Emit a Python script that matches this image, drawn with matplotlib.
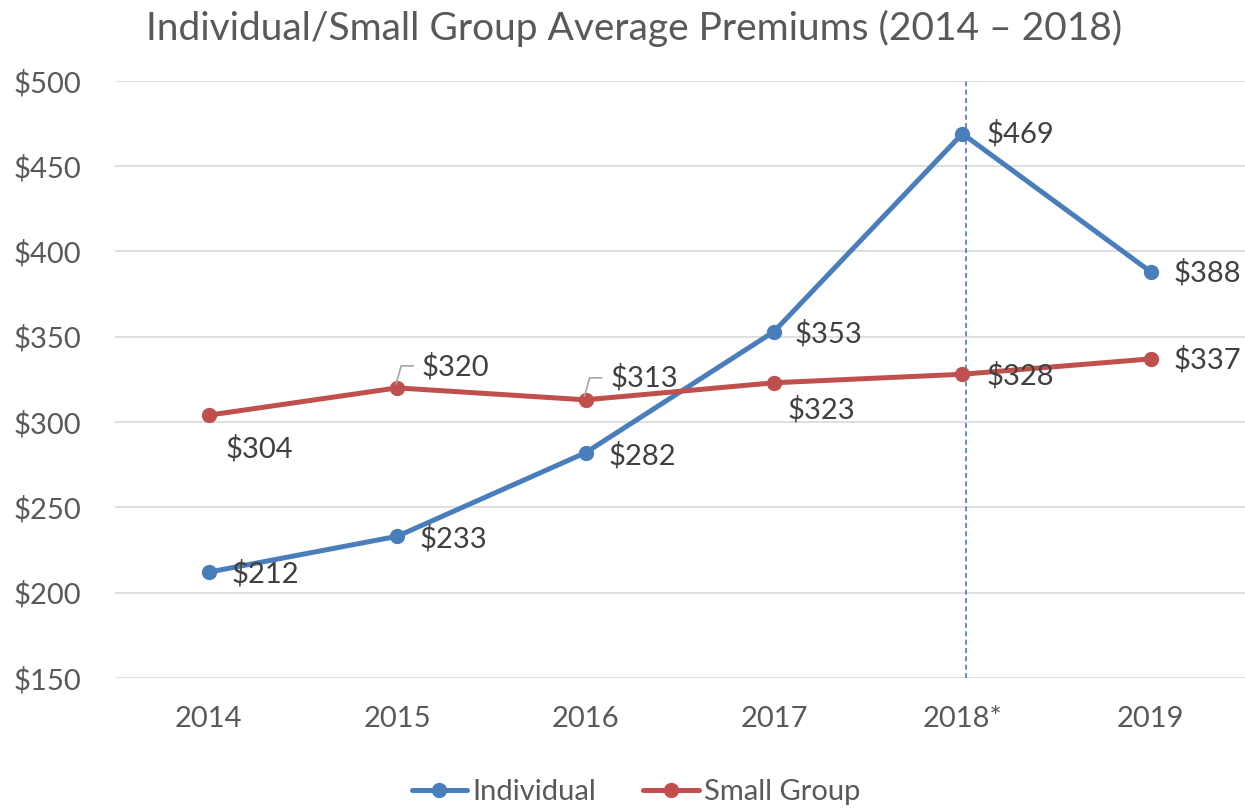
import matplotlib

matplotlib.use("Agg")
import matplotlib.pyplot as plt
from matplotlib.transforms import IdentityTransform

plt.rcParams["font.family"] = ["Lato", "DejaVu Sans"]

# data
years = ["2014", "2015", "2016", "2017", "2018*", "2019"]
individual = [212, 233, 282, 353, 469, 388]
small_group = [304, 320, 313, 323, 328, 337]

# label offsets in pixels (dx, dy from point, dy positive = up)
ind_offsets = [(23, -2), (22, -2), (23, -3), (21, -2), (24, 0), (23, -1)]
sg_offsets = [(17, -34), (24, 21), (25, 22), (14, -27), (24, -2), (23, -1)]
sg_leaders = [False, True, True, False, False, False]

BLUE = "#4A7EBB"
RED = "#C0504D"
GRID = "#D9D9D9"
TXT = "#404040"
TICK = "#595959"
FS = 21

fig = plt.figure(figsize=(12.45, 8.08), dpi=100)
ax = fig.add_axes([0.092, 0.161, 0.908, 0.739])

x = list(range(len(years)))
ax.plot(x, individual, color=BLUE, lw=3.6, marker="o", ms=10, label="Individual",
        solid_capstyle="round", zorder=3)
ax.plot(x, small_group, color=RED, lw=3.6, marker="o", ms=10, label="Small Group",
        solid_capstyle="round", zorder=3)

ax.axvline(4.02, color=BLUE, lw=1.2, ls=(0, (3, 2)), zorder=2)

ax.set_xlim(-0.5, 5.5)
ax.set_ylim(150, 500)
ax.set_yticks(range(150, 501, 50))
ax.set_yticklabels([f"${v}" for v in range(150, 501, 50)])
ax.set_xticks(x)
ax.set_xticklabels(years)
ax.yaxis.grid(True, color=GRID, lw=1.2)
ax.set_axisbelow(True)
for s in ax.spines.values():
    s.set_visible(False)
ax.tick_params(length=0, labelsize=FS, colors=TICK)
ax.tick_params(axis="y", pad=24)
ax.tick_params(axis="x", pad=20)

fig.canvas.draw()


def label(xi, yi, dx, dy, leader=False):
    px, py = ax.transData.transform((xi, yi))
    ax.annotate(f"${yi}", (xi, yi), xytext=(dx, dy), textcoords="offset pixels",
                ha="left", va="center", fontsize=FS, color=TXT)
    if leader:
        xs = [px - 1, px + 4, px + 16]
        ys = [py + 4, py + 22, py + 22]
        ax.add_line(plt.Line2D(xs, ys, transform=IdentityTransform(), color="#A6A6A6",
                               lw=1.2, zorder=4))


for xi, yi, (dx, dy) in zip(x, individual, ind_offsets):
    label(xi, yi, dx, dy)
for xi, yi, (dx, dy), ld in zip(x, small_group, sg_offsets, sg_leaders):
    label(xi, yi, dx, dy, ld)

fig.text(0.509, 1 - 28 / 808, "Individual/Small Group Average Premiums (2014 \u2013 2018)",
         fontsize=28, color=TICK, ha="center", va="center")

fig.legend(loc="center", bbox_to_anchor=(0.511, 16 / 808), ncol=2, frameon=False,
           fontsize=FS, labelcolor=TICK, handlelength=1.9, handletextpad=0.2,
           columnspacing=1.6)

fig.savefig("out.png", dpi=100)
